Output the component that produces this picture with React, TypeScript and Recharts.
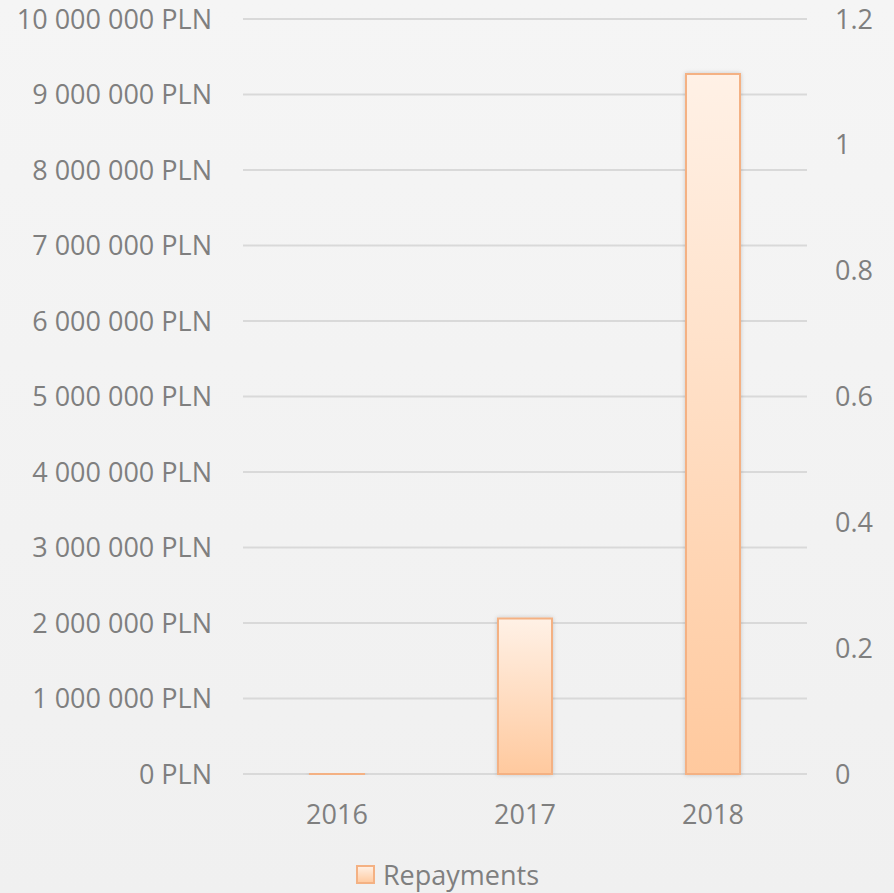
import React from 'react';
import { ComposedChart, Bar, Line, XAxis, YAxis, CartesianGrid, Legend } from 'recharts';

const years = ['2016', '2017', '2018'];
const repayments = [12000, 2060000, 9270000];
const leftTicks = [0, 1000000, 2000000, 3000000, 4000000, 5000000, 6000000, 7000000, 8000000, 9000000, 10000000];
const rightTicks = [0, 0.2, 0.4, 0.6, 0.8, 1, 1.2];
const seriesName = 'Repayments';

const data = years.map((y, i) => ({ year: y, repayments: repayments[i] }));

const FONT = "'Open Sans', sans-serif";
const TEXT = '#7f7f7f';

const fmtPLN = (v: number) => String(v).replace(/\B(?=(\d{3})+(?!\d))/g, ' ') + ' PLN';

const LegendContent = () => (
  <div
    style={{
      height: 53,
      width: 894,
      display: 'flex',
      justifyContent: 'center',
      alignItems: 'center',
      paddingTop: 17,
      paddingBottom: 1,
      boxSizing: 'border-box',
      fontFamily: FONT,
      fontSize: 27,
      color: TEXT,
      overflow: 'visible',
    }}
  >
    <svg width={22} height={22} style={{ marginRight: 6 }}>
      <defs>
        <linearGradient id="legGrad" x1="0" y1="0" x2="0" y2="1">
          <stop offset="0%" stopColor="#fff1e6" />
          <stop offset="100%" stopColor="#ffc99e" />
        </linearGradient>
      </defs>
      <rect x={2} y={2} width={17} height={17} fill="url(#legGrad)" stroke="#f4b183" strokeWidth={2} />
    </svg>
    <span style={{ lineHeight: '30px' }}>{seriesName}</span>
  </div>
);

export default function App() {
  return (
    <div
      style={{
        position: 'absolute',
        left: 0,
        top: 0,
        width: 894,
        height: 893,
        background: 'linear-gradient(#f5f5f5, #f0f0f0)',
      }}
    >
      <ComposedChart width={894} height={893} data={data} margin={{ top: 19, right: 0, bottom: 0, left: 0 }}>
        <defs>
          <linearGradient id="barGrad" x1="0" y1="0" x2="0" y2="1">
            <stop offset="0%" stopColor="#fff1e6" />
            <stop offset="100%" stopColor="#ffc99e" />
          </linearGradient>
          <filter id="barShadow" x="-30%" y="-10%" width="160%" height="120%">
            <feDropShadow dx="0" dy="0" stdDeviation="2" floodColor="#000000" floodOpacity="0.18" />
          </filter>
        </defs>
        <CartesianGrid yAxisId="left" vertical={false} stroke="#d9d9d9" strokeWidth={2} />
        <XAxis
          dataKey="year"
          axisLine={false}
          tickLine={false}
          tickSize={0}
          tickMargin={31}
          height={66}
          tick={{ fill: TEXT, fontSize: 27, fontFamily: FONT }}
        />
        <YAxis
          yAxisId="left"
          orientation="left"
          width={243}
          domain={[0, 10000000]}
          ticks={leftTicks}
          tickFormatter={fmtPLN}
          axisLine={false}
          tickLine={false}
          tickSize={0}
          tickMargin={31}
          interval={0}
          tick={{ fill: TEXT, fontSize: 27, fontFamily: FONT }}
        />
        <YAxis
          yAxisId="right"
          orientation="right"
          width={87}
          type="number"
          domain={[0, 1.2]}
          allowDataOverflow
          ticks={rightTicks}
          axisLine={false}
          tickLine={false}
          tickSize={0}
          tickMargin={28}
          interval={0}
          tick={{ fill: TEXT, fontSize: 27, fontFamily: FONT, textAnchor: 'start' }}
        />
        <Legend verticalAlign="bottom" align="center" height={53} content={() => <LegendContent />} />
        <Bar
          yAxisId="left"
          dataKey="repayments"
          name={seriesName}
          barSize={54}
          fill="url(#barGrad)"
          stroke="#f4b183"
          strokeWidth={2}
          filter="url(#barShadow)"
          isAnimationActive={false}
        />
        <Line
          yAxisId="right"
          dataKey="none"
          stroke="none"
          dot={false}
          activeDot={false}
          legendType="none"
          isAnimationActive={false}
        />
      </ComposedChart>
    </div>
  );
}
